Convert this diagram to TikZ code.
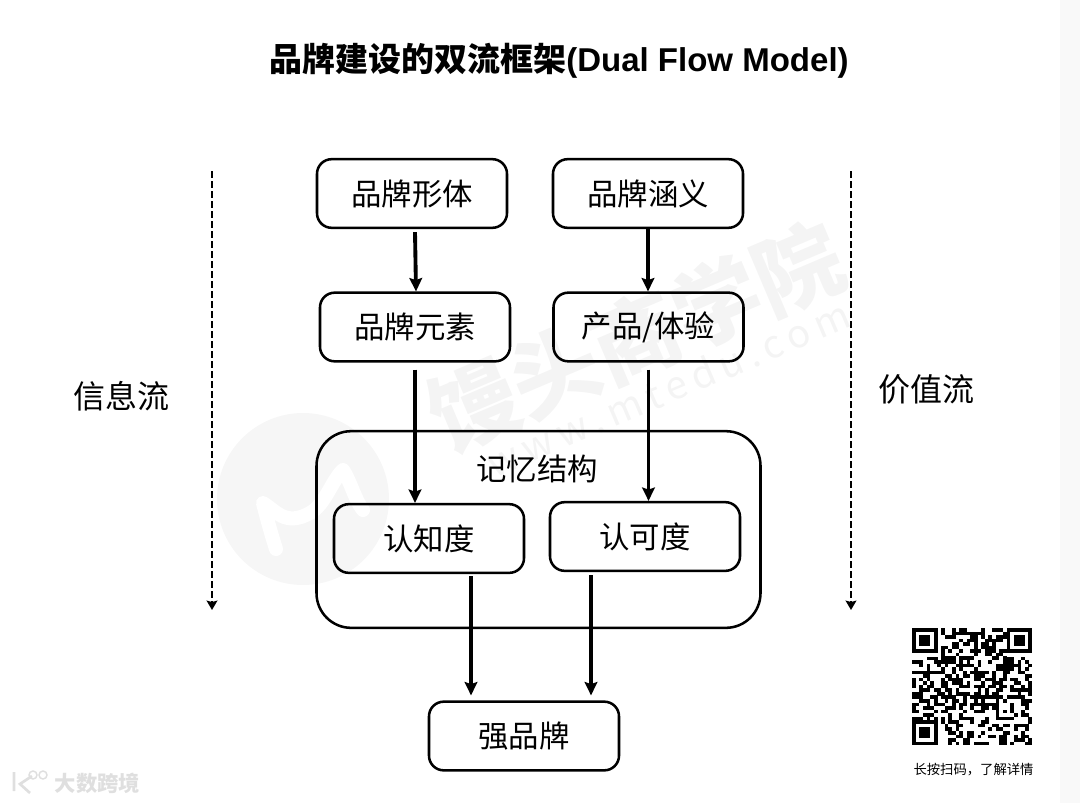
\documentclass[tikz,border=0pt]{standalone}
\usepackage{fontspec}
\setmainfont{Noto Sans CJK SC}
\newfontfamily\latinbold{Liberation Sans}
\usetikzlibrary{arrows.meta}
\tikzset{
box/.style={draw,line width=1.9pt,rounded corners=11pt,minimum width=142.5pt,minimum height=51.5pt,inner sep=0pt,font=\fontsize{22.8}{26}\selectfont},
flow/.style={line width=2.9pt,-{Stealth[length=10pt,width=9.5pt,inset=1.5pt]}},
side/.style={line width=1.9pt,dash pattern=on 5pt off 2.5pt,-{Stealth[length=7pt,width=8pt,inset=1pt]}},
sidetext/.style={font=\fontsize{24}{28}\selectfont,inner sep=0pt},
wmark/.style={text=gray!9,inner sep=0pt}
}
\begin{document}
\begin{tikzpicture}[x=0.75pt,y=-0.75pt,>=stealth]
\useasboundingbox (0,0) rectangle (1080,803);
% faint page parts
\fill[gray!5] (1060,0) rectangle (1080,803);
\fill[gray!7] (303,499) circle (86);
\draw[white,line width=10.5pt,line cap=round,line join=round] (276,549) .. controls (270,530) and (266,515) .. (263,503) .. controls (275,510) and (285,527) .. (310,513) .. controls (325,505) and (332,480) .. (343,470) .. controls (350,480) and (355,500) .. (363,510);
\node[wmark,rotate=23,font=\fontsize{66}{68}\selectfont\bfseries] (wmname) at (636,337) {馒头商学院};
\node[wmark,rotate=23,font=\fontsize{29}{32}\selectfont] (wmsite) at (668,388) {w\,w\,w\,.\,m\,t\,e\,d\,u\,.\,c\,o\,m};
% title
\node[inner sep=0pt,font=\fontsize{24.75}{28}\selectfont\bfseries] (title) at (559,61) {品牌建设的双流框架{\latinbold (Dual Flow Model)}};
% boxes
\node[box] (xingti) at (412,193.5) {品牌形体};
\node[box] (hanyi) at (648,193.5) {品牌涵义};
\node[box] (yuansu) at (415,327) {品牌元素};
\node[box] (tiyan) at (648.5,327) {产品/体验};
\node[draw,line width=1.9pt,rounded corners=26pt,minimum width=333pt,minimum height=147.5pt] (jiyi) at (538.5,529.5) {};
\node[inner sep=0pt,font=\fontsize{22.8}{26}\selectfont] (jiyitext) at (537,469) {记忆结构};
\node[box] (renzhi) at (429,538.5) {认知度};
\node[box] (renke) at (645,536.5) {认可度};
\node[box] (qiang) at (524,736) {强品牌};
% arrows
\draw[flow] ([shift={(3,3)}]xingti.south)--([shift={(1,0)}]yuansu.north);
\draw[flow] (hanyi.south)--(hanyi.south|-tiyan.north);
\draw[flow] ([shift={(0,7)}]yuansu.south)--(yuansu.south|-renzhi.north);
\draw[flow] ([shift={(0,7)}]tiyan.south)--(tiyan.south|-renke.north);
\draw[flow] ([shift={(42,2)}]renzhi.south)--([shift={(-53,-5)}]qiang.north);
\draw[flow] ([shift={(-54,3)}]renke.south)--([shift={(67,-5)}]qiang.north);
% side flows
\coordinate (leftA) at (212,171);
\coordinate (leftB) at (212,610);
\coordinate (rightA) at (851,171);
\coordinate (rightB) at (851,610);
\draw[side] (leftA)--(leftB);
\draw[side] (rightA)--(rightB);
\node[sidetext] (xinxi) at (121,396) {信息流};
\node[sidetext] (jiazhi) at (926,389) {价值流};
% qr code
\pgfmathsetseed{4183}
\foreach \i in {0,...,32}{
\foreach \j in {0,...,32}{
\pgfmathrandominteger{\qrbit}{0}{99}
\ifnum\qrbit<52
\fill (912+3.64*\i,628+3.55*\j) rectangle +(3.7,3.6);
\fi
}}
\foreach \qx/\qy in {912/628,1006.6/628,912/720.3}{
\fill[white] (\qx-0.1,\qy-0.1) rectangle +(29.2,28.6);
\fill (\qx,\qy) rectangle +(25.5,24.9);
\fill[white] (\qx+3.6,\qy+3.55) rectangle +(18.2,17.8);
\fill (\qx+7.3,\qy+7.1) rectangle +(10.9,10.7);
}
\node[inner sep=0pt,font=\fontsize{10}{12}\selectfont] (qrtext) at (973.5,769.5) {长按扫码，了解详情};
% corner sign
\node[inner sep=0pt,text=gray!25,font=\fontsize{16}{18}\selectfont\bfseries] (sign) at (97.5,783) {大数跨境};
\draw[gray!25,line width=2pt] (14,772)--(14,791) (32,776)--(20,784)--(30,793);
\draw[gray!25,line width=1.1pt] (33,775) circle (4) (43,775) circle (4);
\end{tikzpicture}
\end{document}
